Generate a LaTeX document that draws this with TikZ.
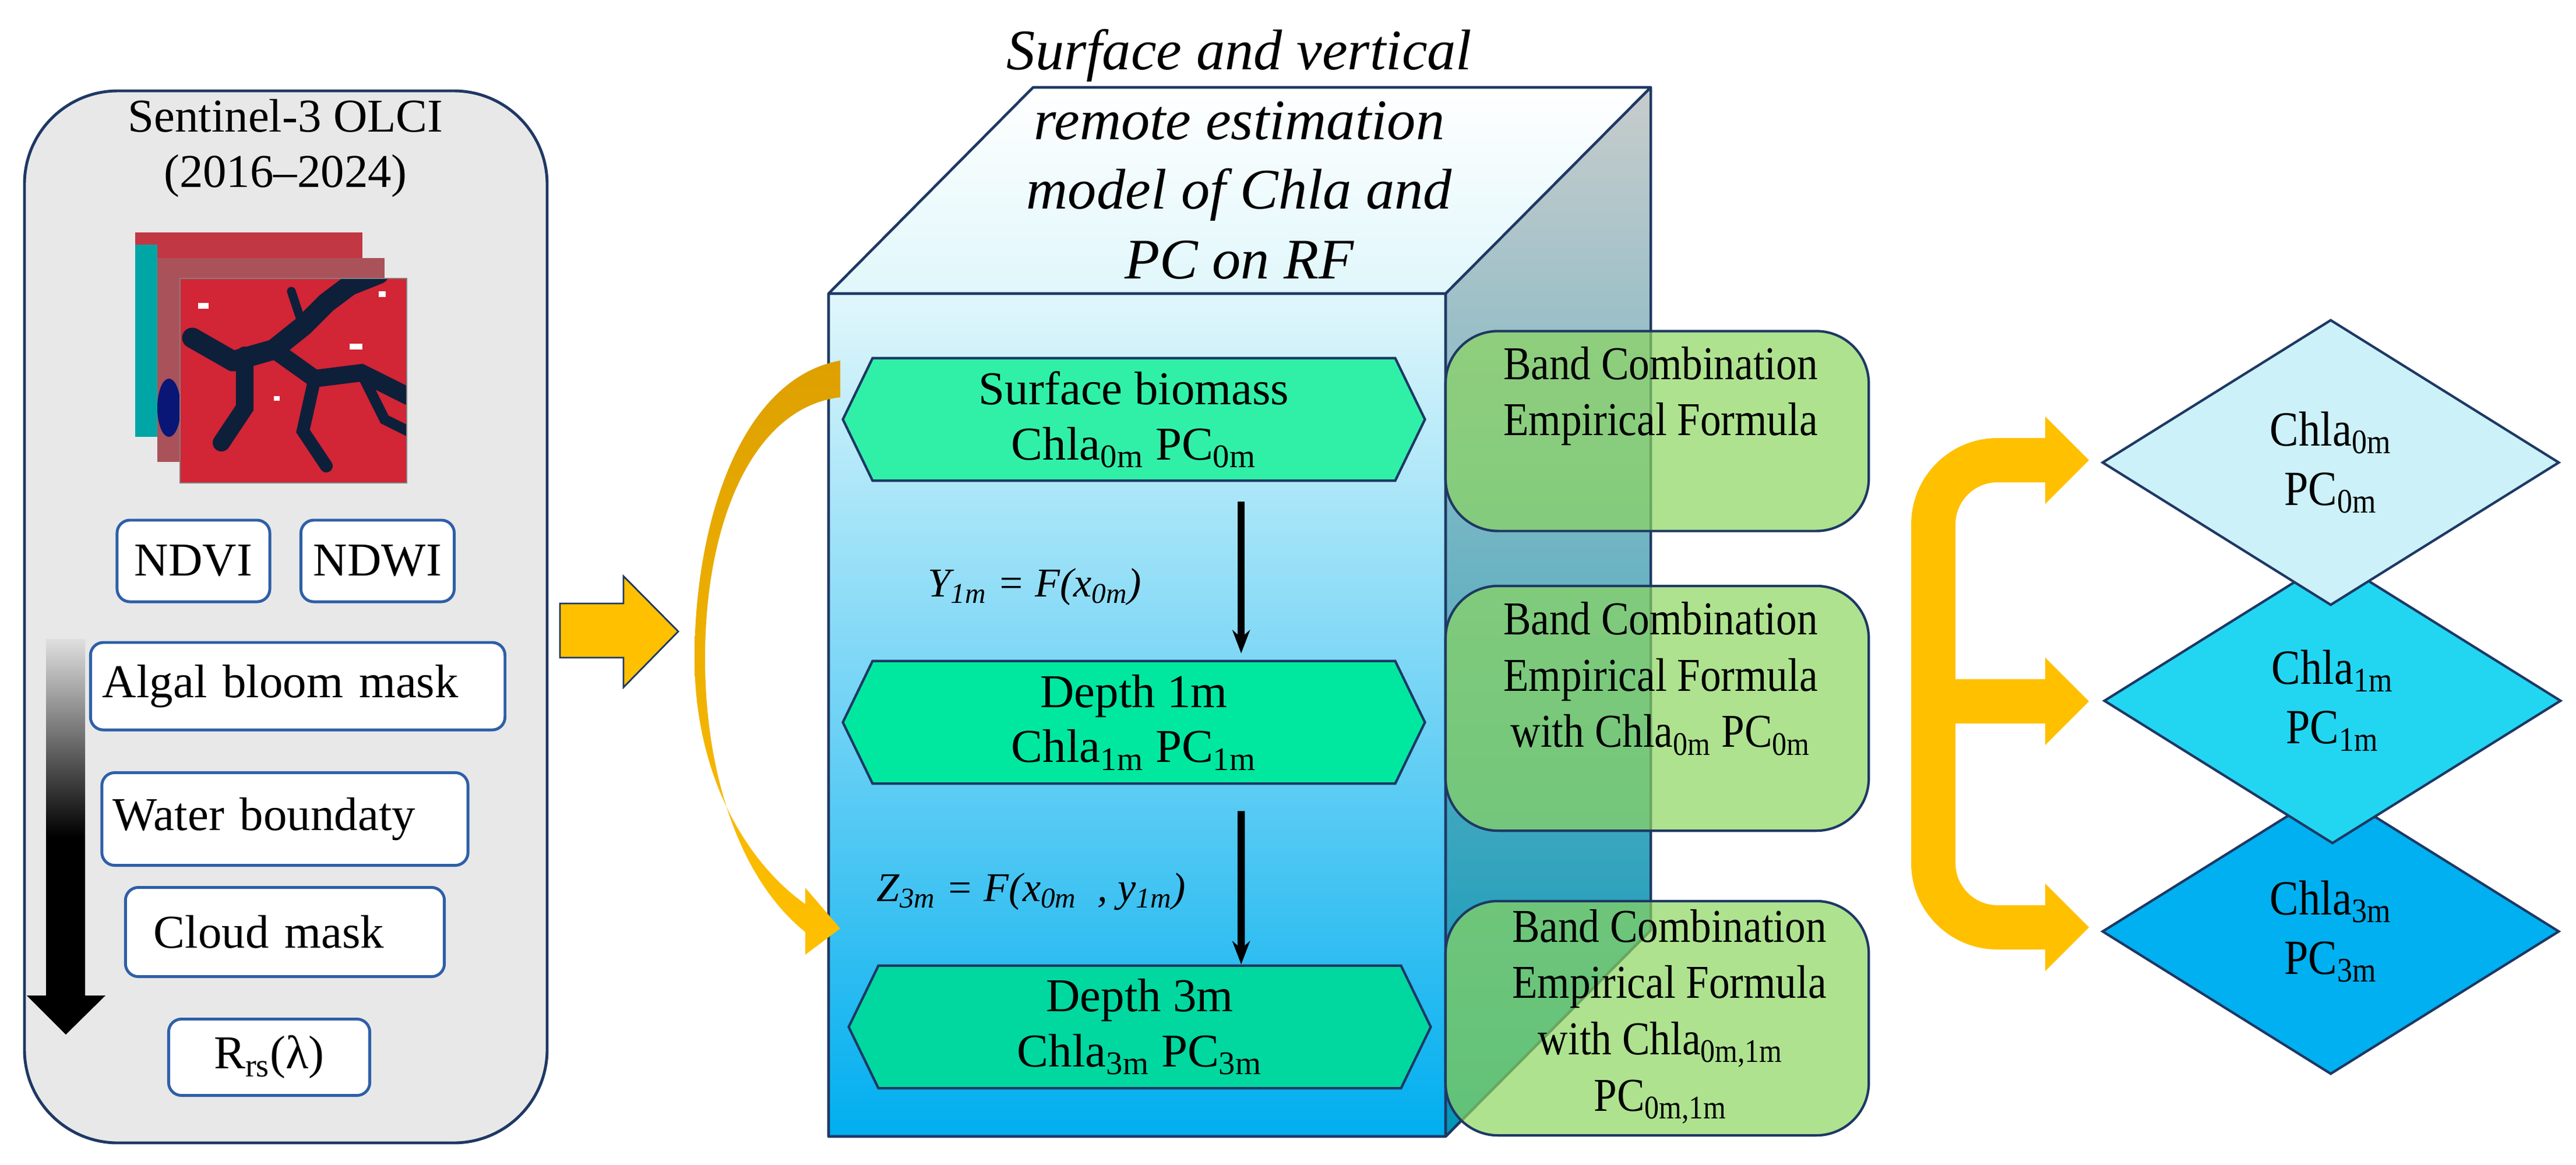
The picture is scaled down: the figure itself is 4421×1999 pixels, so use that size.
\documentclass[tikz,border=0pt]{standalone}
\usepackage{fontspec}
\setmainfont{Liberation Serif}
\newfontfamily\serf{Liberation Serif}
\newfontfamily\condfont[FakeStretch=0.88]{Liberation Serif}
\usetikzlibrary{shapes.geometric,calc,arrows.meta}
\definecolor{navy}{HTML}{1F3864}
\definecolor{bluebd}{HTML}{2E5FA8}
\definecolor{ylw}{HTML}{FFC000}
\definecolor{org}{HTML}{DDA000}
\definecolor{grn}{HTML}{8BD55F}
\definecolor{hexa}{HTML}{30F0A8}
\definecolor{hexb}{HTML}{00E8A0}
\definecolor{hexc}{HTML}{00D8A0}
\definecolor{satred}{HTML}{D22535}
\definecolor{satdark}{HTML}{0E1F3A}
\definecolor{fronta}{HTML}{E0F7FB}
\definecolor{frontb}{HTML}{00D2F0}
\definecolor{frontc}{HTML}{00AEEF}
\definecolor{sidea}{HTML}{C8CCCC}
\definecolor{sideb}{HTML}{0096B8}
\definecolor{dia1}{HTML}{CCF1F8}
\definecolor{dia2}{HTML}{22D6F2}
\definecolor{dia3}{HTML}{00B0F0}
\begin{document}
\begin{tikzpicture}[x=0.01cm,y=-0.01cm,font=\serf,
  lbox/.style={draw=bluebd,line width=1.4pt,fill=white,rounded corners=0.22cm,inner sep=0pt,font=\serf\fontsize{23}{27}\selectfont},
  hexl/.style={inner sep=0pt,minimum height=2.09cm,font=\serf\fontsize{23}{27}\selectfont,align=center},
  gbox/.style={draw=navy,line width=1.2pt,fill=grn,fill opacity=0.7,rounded corners=0.9cm,inner sep=0pt,minimum width=7.26cm},
  gtxt/.style={align=center,inner sep=0pt,font=\condfont\fontsize{23}{27.5}\selectfont},
  dia/.style={diamond,draw=navy,line width=1.2pt,inner sep=0pt,minimum width=7.84cm,minimum height=4.9cm,align=center,font=\condfont\fontsize{24}{29}\selectfont},
  blk/.style={line width=3.5pt,-{Stealth[length=0.4cm,width=0.3cm]}},
  fml/.style={font=\serf\itshape\fontsize{20}{24}\selectfont}]
\useasboundingbox (0,0) rectangle (4421,1999);
% ---------- left panel
\draw[navy,line width=1.4pt,fill=gray!18,rounded corners=1.6cm] (42,156) rectangle (939,1962);
\node[font=\serf\fontsize{23}{27}\selectfont,align=center] (title) at (490,255) {Sentinel-3 OLCI\\(2016–2024)};
% satellite images
\fill[satred!80!gray] (232,399) rectangle (622,750);
\fill[teal!70!cyan] (232,420) rectangle (270,750);
\fill[gray!50!satred] (270,443) rectangle (660,793);
\fill[satdark!70!blue] (290,700) ellipse (20 and 50);
\fill[satred] (309,478) rectangle (698,829);
\begin{scope}
\clip (309,478) rectangle (698,829);
\draw[satdark,line width=0.35cm,line cap=round,line join=round] (330,580) -- (400,620) -- (470,600) -- (520,560) -- (560,520) -- (600,490) -- (650,470);
\draw[satdark,line width=0.3cm,line cap=round] (420,610) -- (420,700) -- (380,760);
\draw[satdark,line width=0.3cm,line cap=round] (470,600) -- (540,650) -- (620,640) -- (700,680);
\draw[satdark,line width=0.22cm,line cap=round] (540,650) -- (520,740) -- (560,800);
\draw[satdark,line width=0.18cm,line cap=round] (620,640) -- (660,720) -- (700,740);
\draw[satdark,line width=0.15cm,line cap=round] (520,560) -- (500,500);
\fill[white] (340,520) rectangle (358,530);
\fill[white] (600,590) rectangle (622,600);
\fill[white] (650,500) rectangle (662,510);
\fill[white] (470,680) rectangle (480,688);
\end{scope}
\draw[gray,line width=0.4pt] (309,478) rectangle (698,829);
% boxes
\node[lbox,minimum width=2.62cm,minimum height=1.4cm] (ndvi) at (332,963) {NDVI};
\node[lbox,minimum width=2.63cm,minimum height=1.4cm] (ndwi) at (648,963) {NDWI};
\node[lbox,minimum width=7.11cm,minimum height=1.5cm,text width=6.7cm,align=left] (algal) at (511,1178) {Algal bloom mask};
\node[lbox,minimum width=6.28cm,minimum height=1.59cm,text width=5.9cm,align=left] (water) at (489,1406) {Water boundaty};
\node[lbox,minimum width=5.47cm,minimum height=1.53cm,text width=4.9cm,align=left] (cloud) at (489,1600) {\hspace*{0.2cm}Cloud mask};
\node[lbox,minimum width=3.45cm,minimum height=1.31cm] (rrs) at (462,1815) {R\textsubscript{rs}(λ)};
% gradient arrow
\shade[top color=gray!25,bottom color=black,middle color=black]
  (79,1097) -- (146,1097) -- (146,1709) -- (181,1709) -- (113,1776) -- (46,1709) -- (79,1709) -- cycle;
% ---------- yellow block arrow
\fill[ylw,draw=navy,line width=0.8pt] (961,1036) -- (1070,1036) -- (1070,989) -- (1164,1084) -- (1070,1180) -- (1070,1129) -- (961,1129) -- cycle;
% ---------- cube
\shade[top color=white,bottom color=fronta] (1422,504) -- (1773,150) -- (2833,150) -- (2481,504) -- cycle;
\shade[top color=sidea,bottom color=sideb] (2481,504) -- (2833,150) -- (2833,1597) -- (2481,1951) -- cycle;
\shade[top color=fronta,middle color=frontb,bottom color=frontc] (1422,504) rectangle (2481,1951);
\draw[navy,line width=1.3pt,line join=round] (1422,504) -- (1773,150) -- (2833,150) -- (2833,1597) -- (2481,1951) -- (1422,1951) -- cycle
  (1422,504) -- (2481,504) -- (2833,150) (2481,504) -- (2481,1951);
\node[font=\serf\itshape\fontsize{28}{34}\selectfont,align=center] (cubet) at (2127,265) {Surface and vertical\\remote estimation\\model of Chla and\\PC on RF};
% ---------- hexagons
\node[hexl,minimum width=9.97cm] (hex1) at (1946,720) {};
\node[hexl,minimum width=9.97cm] (hex2) at (1946,1240) {};
\node[hexl,minimum width=9.97cm] (hex3) at (1956,1763) {};
\foreach \h/\c in {hex1/hexa,hex2/hexb,hex3/hexc}{
  \fill[\c,draw=navy,line width=1.2pt] (\h.west) -- ([xshift=0.51cm]\h.north west) -- ([xshift=-0.51cm]\h.north east) -- (\h.east) -- ([xshift=-0.51cm]\h.south east) -- ([xshift=0.51cm]\h.south west) -- cycle;
}
\node[hexl] at (hex1) {Surface biomass\\Chla\textsubscript{0m} PC\textsubscript{0m}};
\node[hexl] at (hex2) {Depth 1m\\Chla\textsubscript{1m} PC\textsubscript{1m}};
\node[hexl] at (hex3) {Depth 3m\\Chla\textsubscript{3m} PC\textsubscript{3m}};
\draw[blk] ([xshift=1.84cm,yshift=-0.36cm]hex1.south) -- ([xshift=1.84cm,yshift=0.13cm]hex2.north);
\draw[blk] ([xshift=1.84cm,yshift=-0.47cm]hex2.south) -- ([xshift=1.74cm,yshift=0.02cm]hex3.north);
\node[fml] (f1) at (1776,1008) {Y\textsubscript{1m} = F(x\textsubscript{0m})};
\node[fml] (f2) at (1770,1531) {Z\textsubscript{3m} = F(x\textsubscript{0m}\enspace, y\textsubscript{1m})};
% ---------- curved orange arrow
\shade[top color=org,bottom color=ylw]
 (1442,619) .. controls (1270,650) and (1192,900) .. (1192,1130) .. controls (1192,1330) and (1280,1480) .. (1382,1552) -- (1382,1524) -- (1442,1594) -- (1382,1639) -- (1382,1600) .. controls (1270,1510) and (1210,1330) .. (1210,1130) .. controls (1210,900) and (1290,700) .. (1442,682) -- cycle;
% ---------- green boxes
\node[gbox,minimum height=3.43cm] (g1) at (2844,740) {};
\node[gbox,minimum height=4.2cm] (g2) at (2844,1216) {};
\node[gbox,minimum height=4.02cm] (g3) at (2844,1748) {};
\node[gtxt] at (2850,680) {Band Combination\\Empirical Formula};
\node[gtxt] at (2850,1165) {Band Combination\\Empirical Formula\\with Chla\textsubscript{0m} PC\textsubscript{0m}};
\node[gtxt] at (2850,1745) {\hspace*{0.3cm}Band Combination\\\hspace*{0.3cm}Empirical Formula\\with Chla\textsubscript{0m,1m}\\PC\textsubscript{0m,1m}};
% ---------- diamonds
\node[dia,fill=dia3] (d3) at (4000,1599) {Chla\textsubscript{3m}\\PC\textsubscript{3m}};
\node[dia,fill=dia2] (d2) at (4003,1203) {Chla\textsubscript{1m}\\PC\textsubscript{1m}};
\node[dia,fill=dia1] (d1) at (4000,794) {Chla\textsubscript{0m}\\PC\textsubscript{0m}};
% ---------- bracket arrows
\coordinate (b1) at (3510,790);
\coordinate (b2) at (3510,1204);
\coordinate (b3) at (3510,1592);
\draw[ylw,line width=0.76cm,rounded corners=1.1cm] (b1) -- (3318,790) -- (3318,1592) -- (b3);
\draw[ylw,line width=0.76cm] (3318,1204) -- (b2);
\foreach \b in {b1,b2,b3}{
  \fill[ylw] ([yshift=0.75cm]\b) -- ([xshift=0.75cm]\b) -- ([yshift=-0.75cm]\b) -- cycle;
}
\end{tikzpicture}
\end{document}
